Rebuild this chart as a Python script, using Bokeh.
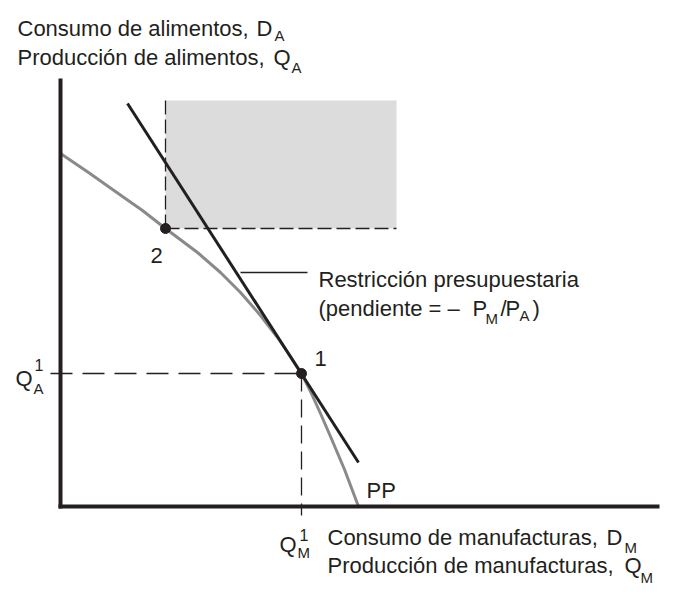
from bokeh.plotting import figure
from bokeh.models import Range1d
from bokeh.core.properties import value
from bokeh.embed import file_html
from bokeh.resources import INLINE

# ---- data (chart units: origin at the axes' corner) ----
pp_x = [0, 28, 62, 82, 105, 125, 137, 160, 180, 200, 217, 230, 241, 250, 260, 270, 284, 298]
pp_y = [353, 334, 310, 296, 278, 263, 254, 234, 214, 191, 169, 150, 133, 115, 93, 70, 37, 0]

budget_x = [67, 298]
budget_y = [403, 44]

point1 = (241, 133)   # (Q_M^1, Q_A^1)
point2 = (105, 278)
rect_x_end = 336
rect_y_end = 406

x_axis_end = 599
y_axis_end = 428

INK = "#231f20"
FONT = "Liberation Sans"

p = figure(width=665, height=595, output_backend="svg", toolbar_location=None,
           x_range=Range1d(-60, 605), y_range=Range1d(-89, 506),
           x_axis_location=None, y_axis_location=None, min_border=0)
p.grid.visible = False
p.outline_line_color = None
p.background_fill_color = "white"

# shaded region
p.quad(left=[point2[0]], right=[rect_x_end], bottom=[point2[1]], top=[rect_y_end],
       fill_color="#dcdcdd", line_color=None)
p.line([point2[0], point2[0]], [point2[1], rect_y_end], line_color=INK, line_width=1.3,
       line_dash="14 5")
p.line([point2[0], rect_x_end], [point2[1], point2[1]], line_color=INK, line_width=1.3,
       line_dash="14 5")

# Q1 guide lines
p.line([-10, point1[0]], [point1[1], point1[1]], line_color=INK, line_width=1.3,
       line_dash="22 10")
p.line([point1[0], point1[0]], [point1[1], -9], line_color=INK, line_width=1.3,
       line_dash="18 8")

# leader line
p.line([180, 247], [234, 234], line_color=INK, line_width=1.3)

# PP curve
p.line(pp_x, pp_y, line_color="#8a8a8a", line_width=3, line_join="round")

# budget line
p.line(budget_x, budget_y, line_color=INK, line_width=3)

# axes
p.line([0, 0], [-2, y_axis_end], line_color=INK, line_width=4)
p.line([-2, x_axis_end], [0, 0], line_color=INK, line_width=4)

# points
p.scatter([point1[0], point2[0]], [point1[1], point2[1]], size=10,
          fill_color=INK, line_color=INK)

DY = 8

def txt(x, y, s, size):
    p.text(x=[x], y=[y + DY], text=[s], text_font=value(FONT),
           text_font_size=value(f"{size}px"), text_color=INK,
           text_align="left", text_baseline="alphabetic")

BIG = 22
SM = 15

# y-axis title
txt(-43, 470, "Consumo de alimentos,", BIG)
txt(196, 470, "D", BIG)
txt(214, 463, "A", SM)
txt(-43, 441, "Producción de alimentos,", BIG)
txt(213, 441, "Q", BIG)
txt(231, 431, "A", SM)

# x-axis title
txt(267, -39, "Consumo de manufacturas,", BIG)
txt(546, -39, "D", BIG)
txt(564, -49, "M", SM)
txt(267, -67, "Producción de manufacturas,", BIG)
txt(564, -67, "Q", BIG)
txt(580, -79, "M", SM)

# Q_A^1
txt(-45, 120, "Q", BIG)
txt(-27, 110, "A", SM)
txt(-26, 134, "1", 16)

# Q_M^1
txt(219, -46, "Q", BIG)
txt(237, -54, "M", SM)
txt(239, -36, "1", 16)

# budget constraint label
txt(258, 219, "Restricción presupuestaria", BIG)
txt(258, 190, "(pendiente = –", BIG)
txt(412, 190, "P", BIG)
txt(425, 180, "M", SM)
txt(440, 190, "/", BIG)
txt(445, 190, "P", BIG)
txt(459, 183, "A", SM)
txt(472, 190, ")", BIG)

# point labels
txt(90, 243, "2", BIG)
txt(254, 140, "1", BIG)
txt(306, 8, "PP", BIG)

open("out.html", "w").write(file_html(p, INLINE))
